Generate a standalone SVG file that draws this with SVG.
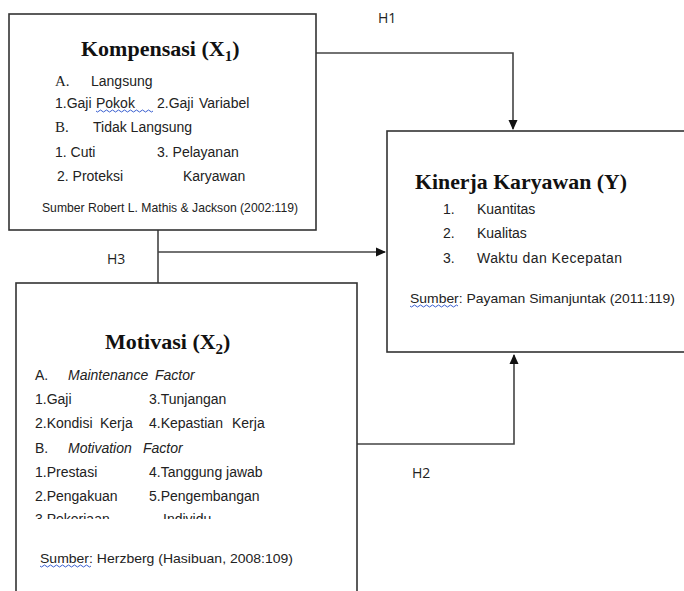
<svg xmlns="http://www.w3.org/2000/svg" width="684" height="591" viewBox="0 0 684 591">
<style>
.box{fill:#fff;stroke:#333;stroke-width:1.6}
.ln{fill:none;stroke:#444;stroke-width:1.6}
.t{font-family:"Liberation Serif",serif;font-weight:bold;font-size:22px;fill:#111}
.s{font-family:"Liberation Sans",Arial,sans-serif;font-size:14px;fill:#222}
.sm{font-family:"Liberation Sans",Arial,sans-serif;font-size:13px;fill:#222}
.h{font-family:"Open Sans","Liberation Sans",sans-serif;font-size:14px;fill:#222}
.sq{fill:none;stroke:#3a5fd0;stroke-width:1}
</style>
<defs>
<marker id="ar" markerWidth="10" markerHeight="10" refX="9" refY="5" orient="auto" markerUnits="userSpaceOnUse">
<path d="M0,0.5 L10,5 L0,9.5 Z" fill="#111"/>
</marker>
<clipPath id="cb"><rect x="0" y="0" width="684" height="519"/></clipPath>
</defs>
<rect width="684" height="591" fill="#fff"/>
<g id="connectors">
<path class="ln" d="M316,53 H513 V129" marker-end="url(#ar)"/>
<path class="ln" d="M158,230 V283 M158,252 H385" marker-end="url(#ar)"/>
<path class="ln" d="M357,444 H514 V355" marker-end="url(#ar)"/>
<text class="h" x="378" y="23">H1</text>
<text class="h" x="107" y="264">H3</text>
<text class="h" x="412" y="478">H2</text>
</g>
<g id="kompensasi">
<rect class="box" x="9" y="14" width="307" height="216"/>
<text class="t" x="81" y="56">Kompensasi (X<tspan font-size="15" dy="5">1</tspan><tspan dy="-5">)</tspan></text>
<text class="s" x="55" y="86"><tspan font-family="Liberation Serif" font-size="15">A.</tspan><tspan x="91">Langsung</tspan></text>
<text class="s" x="55" y="108">1.Gaji<tspan x="96">Pokok</tspan><tspan x="157">2.Gaji</tspan><tspan x="199">Variabel</tspan></text>
<path class="sq" d="M96,111 q1.5,2 3,0 t3,0 t3,0 t3,0 t3,0 t3,0 t3,0 t3,0 t3,0 t3,0 t3,0 t3,0 t3,0 t3,0 t3,0 t3,0 t3,0 t3,0 t3,0"/>
<text class="s" x="55" y="132"><tspan font-family="Liberation Serif" font-size="15">B.</tspan><tspan x="93">Tidak Langsung</tspan></text>
<text class="s" x="55" y="157">1. Cuti<tspan x="157">3. Pelayanan</tspan></text>
<text class="s" x="57" y="181">2. Proteksi<tspan x="183">Karyawan</tspan></text>
<text class="sm" x="42" y="212" textLength="256" lengthAdjust="spacingAndGlyphs">Sumber Robert L. Mathis &amp; Jackson (2002:119)</text>
</g>
<g id="kinerja">
<rect class="box" x="387" y="131" width="310" height="221"/>
<text class="t" x="415" y="189" textLength="212" lengthAdjust="spacingAndGlyphs">Kinerja Karyawan (Y)</text>
<text class="s" x="443" y="214">1.<tspan x="477">Kuantitas</tspan></text>
<text class="s" x="443" y="238">2.<tspan x="477">Kualitas</tspan></text>
<text class="s" x="443" y="263">3.<tspan x="477" textLength="145">Waktu dan Kecepatan</tspan></text>
<text class="sm" x="410" y="303" textLength="265" lengthAdjust="spacingAndGlyphs">Sumber: Payaman Simanjuntak (2011:119)</text>
<path class="sq" d="M410,306 q1.5,2 3,0 t3,0 t3,0 t3,0 t3,0 t3,0 t3,0 t3,0 t3,0 t3,0 t3,0 t3,0 t3,0 t3,0 t3,0 t3,0"/>
</g>
<g id="motivasi">
<rect class="box" x="16" y="283" width="341" height="320"/>
<text class="t" x="105" y="349">Motivasi (X<tspan font-size="15" dy="5">2</tspan><tspan dy="-5">)</tspan></text>
<text class="s" x="35" y="380">A.<tspan x="68" font-style="italic">Maintenance</tspan><tspan x="155" font-style="italic">Factor</tspan></text>
<text class="s" x="35" y="404">1.Gaji<tspan x="149">3.Tunjangan</tspan></text>
<text class="s" x="35" y="428">2.Kondisi<tspan x="100">Kerja</tspan><tspan x="149">4.Kepastian</tspan><tspan x="232">Kerja</tspan></text>
<text class="s" x="35" y="453">B.<tspan x="68" font-style="italic">Motivation</tspan><tspan x="143" font-style="italic">Factor</tspan></text>
<text class="s" x="35" y="477">1.Prestasi<tspan x="149">4.Tanggung jawab</tspan></text>
<text class="s" x="35" y="501">2.Pengakuan<tspan x="149">5.Pengembangan</tspan></text>
<text class="s" x="35" y="524" clip-path="url(#cb)">3.Pekerjaan<tspan x="163">Individu</tspan></text>
<text class="sm" x="40" y="563" textLength="253" lengthAdjust="spacingAndGlyphs">Sumber: Herzberg  (Hasibuan, 2008:109)</text>
<path class="sq" d="M40,566 q1.5,2 3,0 t3,0 t3,0 t3,0 t3,0 t3,0 t3,0 t3,0 t3,0 t3,0 t3,0 t3,0 t3,0 t3,0 t3,0 t3,0 t3,0"/>
</g>
</svg>
